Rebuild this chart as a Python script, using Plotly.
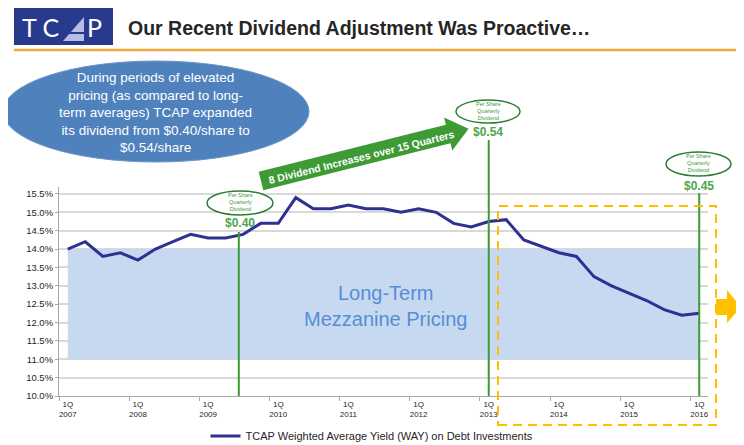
import math
import plotly.graph_objects as go

# quarterly weighted average yield, 1Q 2007 .. 1Q 2016
quarters = [f"{q}Q<br>{y}" for y in range(2007, 2017) for q in (1, 2, 3, 4)][:37]
way_pct = [14.0, 14.2, 13.8, 13.9, 13.7, 14.0, 14.2, 14.4,
           14.3, 14.3, 14.4, 14.7, 14.7, 15.4, 15.1, 15.1,
           15.2, 15.1, 15.1, 15.0, 15.1, 15.0, 14.7, 14.6,
           14.75, 14.8, 14.25, 14.07, 13.9, 13.8, 13.25, 13.0,
           12.8, 12.6, 12.35, 12.2, 12.25]

band_lo, band_hi = 11.0, 14.0
dividend_idx = [9.75, 24, 36]
dividend_txt = ["$0.40", "$0.54", "$0.45"]

FONT = "Arial, Liberation Sans, sans-serif"
GREEN = "#3E9A35"
ORANGE = "#FFC000"

# the page body adds an 8px margin, so the figure is drawn 8px smaller
OFF = 8
W, H = 744 - OFF, 445 - OFF
# plot area in screen pixels
PL, PR, PT, PB = 59, 708, 187, 396


def px(x):
    return (x - PL) / (PR - PL)


def py(y):
    return (PB - y) / (PB - PT)


def path(pts):
    return "M " + " L ".join(f"{px(x):.5f},{py(y):.5f}" for x, y in pts) + " Z"


def note(x, y, text, size, color, bold=False, **kw):
    if bold:
        text = f"<b>{text}</b>"
    d = dict(xref="paper", yref="paper", x=px(x), y=py(y), text=text, showarrow=False,
             xanchor="center", yanchor="middle",
             font=dict(family=FONT, size=size, color=color))
    d.update(kw)
    return d


fig = go.Figure()
fig.add_trace(go.Scatter(
    x=quarters, y=way_pct, mode="lines",
    line=dict(color="#2E3192", width=3),
    name="TCAP Weighted Average Yield (WAY) on Debt Investments",
))

shapes = []
annos = []

# header
shapes.append(dict(type="rect", xref="paper", yref="paper", x0=px(14), x1=px(113),
                   y0=py(45), y1=py(8), fillcolor="#283A8C", line_width=0))
shapes.append(dict(type="path", xref="paper", yref="paper",
                   path=path([(63, 41), (84, 41), (84, 17)]),
                   fillcolor="#B9BDE3", line_width=0))
shapes.append(dict(type="line", xref="paper", yref="paper", x0=px(63), x1=px(84),
                   y0=py(33), y1=py(33), line=dict(color="#283A8C", width=2)))
annos.append(note(40, 27, "T C", 25, "white", font=dict(family="DejaVu Sans ExtraLight, Lato, "
                                                         + FONT, size=25, color="white")))
annos.append(note(94, 27, "P", 25, "white", font=dict(family="DejaVu Sans ExtraLight, Lato, "
                                                       + FONT, size=25, color="white")))
annos.append(note(126, 28, "Our Recent Dividend Adjustment Was Proactive…", 19.5, "#262626",
                  bold=True, xanchor="left"))
shapes.append(dict(type="line", xref="paper", yref="paper", x0=px(14), x1=px(744),
                   y0=py(50), y1=py(50), line=dict(color="#F2A93B", width=2.5)))

# long-term band
shapes.append(dict(type="rect", xref="x", yref="y", x0=0, x1=len(way_pct) - 1,
                   y0=band_lo, y1=band_hi, fillcolor="#C6D9F1", line_width=0,
                   layer="between"))
annos.append(note(385, 306, "Long-Term<br>Mezzanine Pricing", 20, "#558ED5"))

# big callout ellipse
shapes.append(dict(type="circle", xref="paper", yref="paper", x0=px(3), x1=px(309),
                   y0=py(162), y1=py(61), fillcolor="#4F81BD",
                   line=dict(color="#6A95C8", width=1)))
annos.append(note(155, 113,
                  "During periods of elevated<br>pricing (as compared to long-<br>"
                  "term averages) TCAP expanded<br>its dividend from $0.40/share to<br>$0.54/share",
                  13.5, "white"))

# dividend markers
tops = [232, 140, 193]
ell = [(207, 273, 191, 215), (456, 520, 100, 123), (666, 731, 152, 176)]
lbl_y = [223, 132, 186]
for i, xi in enumerate(dividend_idx):
    shapes.append(dict(type="line", xref="x", yref="paper", x0=xi, x1=xi,
                       y0=0, y1=py(tops[i]), line=dict(color=GREEN, width=2)))
    x0, x1, y0, y1 = ell[i]
    shapes.append(dict(type="circle", xref="paper", yref="paper", x0=px(x0), x1=px(x1),
                       y0=py(y1), y1=py(y0), fillcolor="white",
                       line=dict(color="#2E7D32", width=1.5)))
    annos.append(note((x0 + x1) / 2, (y0 + y1) / 2 - 1, "Per Share<br>Quarterly<br>Dividend",
                      5.5, GREEN))
    annos.append(note((x0 + x1) / 2, lbl_y[i], dividend_txt[i], 12, "#4CA64C", bold=True))

# green "increases" arrow
tx, ty = 261, 181
ang = math.radians(14.1)
ux, uy = math.cos(ang), -math.sin(ang)
nx, ny = math.sin(ang), math.cos(ang)
L, hl, hw, hh = 214, 21, 9.5, 17
bx, by = tx + (L - hl) * ux, ty + (L - hl) * uy
arrow = [(tx - hw * nx, ty - hw * ny), (bx - hw * nx, by - hw * ny),
         (bx - hh * nx, by - hh * ny), (tx + L * ux, ty + L * uy),
         (bx + hh * nx, by + hh * ny), (bx + hw * nx, by + hw * ny),
         (tx + hw * nx, ty + hw * ny)]
shapes.append(dict(type="path", xref="paper", yref="paper", path=path(arrow),
                   fillcolor=GREEN, line_width=0))
annos.append(note(361, 157, "8 Dividend Increases over 15 Quarters", 10.5, "white",
                  bold=True, textangle=-14.1))

# recent period box and arrow
shapes.append(dict(type="rect", xref="paper", yref="paper", x0=px(498), x1=px(716),
                   y0=py(425), y1=py(206), line=dict(color=ORANGE, width=2, dash="9px,6px")))
shapes.append(dict(type="path", xref="paper", yref="paper",
                   path=path([(716, 299), (727, 299), (727, 290), (741, 307),
                              (727, 323), (727, 315), (716, 315)]),
                   fillcolor=ORANGE, line_width=0))

fig.update_layout(
    width=W, height=H,
    margin=dict(l=PL - OFF, r=W - (PR - OFF), t=PT - OFF, b=H - (PB - OFF), autoexpand=False),
    plot_bgcolor="white", paper_bgcolor="white",
    font=dict(family=FONT, color="#262626"),
    shapes=shapes, annotations=annos,
    showlegend=True,
    legend=dict(orientation="h", x=px(372), xanchor="center", y=py(436), yanchor="middle",
                font=dict(size=11, color="#262626"), bgcolor="rgba(0,0,0,0)"),
)
fig.update_xaxes(type="category", tickmode="linear", tick0=0, dtick=4,
                 tickson="boundaries", ticks="outside", ticklen=4, tickcolor="#A6A6A6",
                 showgrid=False, showline=True, linecolor="#A6A6A6", linewidth=1,
                 range=[-0.5, len(way_pct) - 0.5], tickangle=0, automargin=False,
                 tickfont=dict(size=8, color="#262626"))
fig.update_yaxes(range=[10, 15.69], tickmode="linear", tick0=10, dtick=0.5,
                 tickformat=".1f", ticksuffix="%", ticks="outside", ticklen=3,
                 tickcolor="#A6A6A6", showline=True, linecolor="#A6A6A6",
                 gridcolor="#D9D9D9", gridwidth=1.5, zeroline=False, automargin=False,
                 tickfont=dict(size=9.5, color="#262626"))

fig.write_html("out.html")
